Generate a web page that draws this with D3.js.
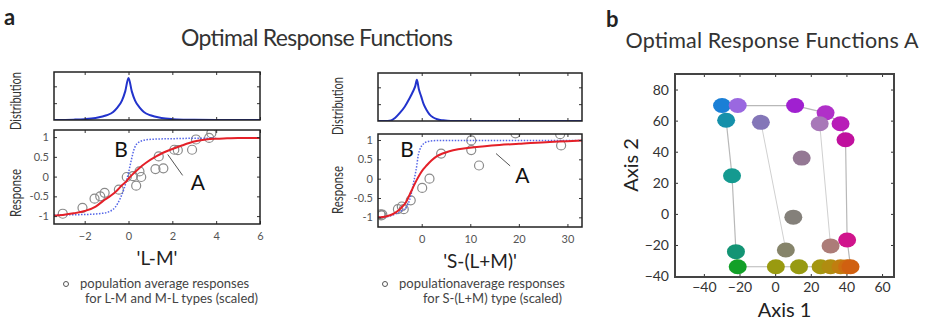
<!DOCTYPE html>
<html>
<head>
<meta charset="utf-8">
<script src="https://cdn.jsdelivr.net/npm/d3@7"></script>
<style>
  body { margin: 0; background: #fff; }
  svg { font-family: Lato, 'Open Sans', sans-serif; }
  .tick text { fill: #555; }
  .tick line { stroke: #333; }
</style>
</head>
<body>
<div id="chart"></div>
<script>
var width = 929, height = 320;

// ---- panel a, left: 'L-M'
var lmDistX = [-3.4, -2.5, -2, -1.5, -1, -0.7, -0.5, -0.3, -0.15, 0, 0.15, 0.3, 0.5, 0.7, 1, 1.5, 2, 2.5, 3, 4, 6];
var lmDistY = [0, 0.02, 0.05, 0.12, 0.28, 0.48, 0.75, 1.15, 1.7, 2.5, 1.7, 1.15, 0.75, 0.48, 0.28, 0.12, 0.05, 0.02, 0.01, 0, 0];
var lmAX = [-3.4, -3, -2.5, -2, -1.5, -1.17, -0.8, -0.56, -0.3, -0.1, 0, 0.25, 0.5, 0.8, 1.26, 1.6, 2, 2.4, 2.77, 3.1, 3.53, 4, 4.5, 5, 6];
var lmAY = [-0.99, -0.97, -0.93, -0.87, -0.76, -0.62, -0.48, -0.37, -0.22, -0.12, -0.05, 0.09, 0.22, 0.35, 0.51, 0.61, 0.7, 0.78, 0.85, 0.9, 0.94, 0.96, 0.97, 0.98, 0.98];
var lmBX = [-3.4, -2, -1.2, -0.85, -0.6, -0.4, -0.2, 0, 0.1, 0.27, 0.5, 0.8, 1.26, 2, 3, 4];
var lmBY = [-0.97, -0.96, -0.93, -0.88, -0.77, -0.58, -0.3, 0.1, 0.35, 0.72, 0.88, 0.93, 0.95, 0.96, 0.97, 0.97];
var lmPtsX = [-3.0, -2.1, -1.55, -1.29, -1.09, -0.44, -0.08, 0.2, 0.5, 0.58, 0.35, 1.23, 1.59, 1.38, 2.09, 2.25, 2.9, 3.08, 3.68, 3.78];
var lmPtsY = [-0.94, -0.79, -0.56, -0.5, -0.41, -0.33, -0.01, 0.01, 0.13, -0.01, -0.23, 0.19, 0.21, 0.51, 0.68, 0.67, 0.68, 0.94, 0.98, 1.1];
var lmXTicks = [-2, 0, 2, 4, 6];

// ---- panel a, right: 'S-(L+M)'
var slmDistX = [-9, -7, -6.3, -5.5, -4.5, -3.5, -2.5, -1.8, -1.3, -1.0, -0.6, -0.1, 0.4, 1, 1.6, 2.3, 3.2, 4.4, 6, 33];
var slmDistY = [0, 0, 0.03, 0.18, 0.48, 0.85, 1.35, 1.75, 2.1, 2.45, 1.9, 1.45, 1.0, 0.66, 0.4, 0.22, 0.1, 0.04, 0, 0];
var slmAX = [-9, -8, -7.2, -6, -4.5, -3.8, -3.1, -2.5, -1.8, -1.1, -0.4, 0.3, 1, 2, 3, 4.3, 5.7, 7.5, 9.9, 13, 16, 20, 26.3, 30, 33];
var slmAY = [-1.0, -0.99, -0.97, -0.92, -0.79, -0.7, -0.58, -0.42, -0.23, -0.05, 0.11, 0.24, 0.34, 0.47, 0.57, 0.65, 0.71, 0.76, 0.8, 0.84, 0.87, 0.9, 0.95, 0.97, 0.99];
var slmBX = [-9, -7, -5.2, -4, -3.1, -2.5, -2.1, -1.7, -1.4, -1.0, -0.75, -0.3, 0.27, 1, 2.3, 4, 10, 20, 33];
var slmBY = [-1.0, -0.98, -0.9, -0.82, -0.72, -0.55, -0.36, -0.12, 0.07, 0.35, 0.58, 0.78, 0.89, 0.95, 0.98, 0.99, 0.99, 0.99, 0.99];
var slmPtsX = [-8.5, -8.3, -8.1, -4.9, -4.1, -3.7, -2.26, 0.1, 1.6, 4.0, 10.2, 10.2, 11.8, 19.3, 28.5, 28.7];
var slmPtsY = [-0.92, -0.95, -0.93, -0.79, -0.72, -0.79, -0.56, -0.24, 0.0, 0.65, 0.99, 0.74, 0.34, 1.17, 1.15, 0.86];
var slmXTicks = [0, 10, 20, 30];

var respTicks = [-1, -0.5, 0, 0.5, 1];
var respTickLabels = ['-1', '-0.5', '0', '0.5', '1'];
var distTicks = [1, 2];

// ---- panel b
var dotX = [-29.8, -21, -27.5, -8, 11.2, 28.3, 25, 36.7, 39.5, 14.9, -24.2, 10.2, 40.4, 31.1, 6, -22, -21, 0.4, 13.4, 25.5, 31.1, 36.7, 40.4, 42.3];
var dotY = [69.7, 69.7, 60.2, 58.9, 69.7, 65, 58, 58, 47.7, 35.9, 24.5, -2.1, -16.8, -20.6, -23.2, -24.3, -34, -34, -34, -34, -34, -34, -34, -34];
var dotColor = ['#1a7fd6', '#9a68e0', '#1590aa', '#8476b8', '#a020d0', '#b030c8', '#a878b8', '#b81cb8', '#c0109e',
  '#947894', '#149a90', '#84807a', '#d0148c', '#ac7c78', '#86846a', '#139474', '#12a028', '#999a10', '#979a12',
  '#a49610', '#b08c10', '#c07e10', '#cc6e10', '#d06010'];
var loopOrder = [0, 1, 4, 5, 7, 8, 12, 23, 22, 21, 20, 19, 18, 17, 16, 15, 10, 2, 0];
var innerLinks = [[3, 14], [6, 13]];
var bXTicks = [-40, -20, 0, 20, 40, 60];
var bYTicks = [-40, -20, 0, 20, 40, 60, 80];

var svg = d3.select('#chart')
  .append('svg')
  .attr('width', width)
  .attr('height', height);

function zip(xs, ys) {
  return xs.map(function (x, i) { return [x, ys[i]]; });
}

function frame(g, x0, y0, x1, y1) {
  g.append('rect')
    .attr('x', x0).attr('y', y0)
    .attr('width', x1 - x0).attr('height', y1 - y0)
    .attr('fill', 'none')
    .attr('stroke', '#222')
    .attr('stroke-width', 1.5);
}

function drawPanelA(cfg) {
  var g = svg.append('g');
  var x = d3.scaleLinear().domain(cfg.xDomain).range([cfg.left, cfg.right]);
  var yd = d3.scaleLinear().domain([0, 2.85]).range([cfg.distBottom, cfg.distTop]);
  var yr = d3.scaleLinear().domain(cfg.yDomain).range([cfg.respBottom, cfg.respTop]);

  var clipD = 'clipD' + cfg.id, clipR = 'clipR' + cfg.id;
  g.append('clipPath').attr('id', clipD).append('rect')
    .attr('x', cfg.left).attr('y', cfg.distTop)
    .attr('width', cfg.right - cfg.left).attr('height', cfg.distBottom - cfg.distTop);
  g.append('clipPath').attr('id', clipR).append('rect')
    .attr('x', cfg.left).attr('y', cfg.respTop)
    .attr('width', cfg.right - cfg.left).attr('height', cfg.respBottom - cfg.respTop);

  // distribution
  g.append('path')
    .datum(zip(cfg.distX, cfg.distY))
    .attr('clip-path', 'url(#' + clipD + ')')
    .attr('fill', 'none')
    .attr('stroke', '#2233cc')
    .attr('stroke-width', 2)
    .attr('d', d3.line().x(function (d) { return x(d[0]); }).y(function (d) { return yd(d[1]); }).curve(d3.curveMonotoneX));

  var line = d3.line()
    .x(function (d) { return x(d[0]); })
    .y(function (d) { return yr(d[1]); })
    .curve(d3.curveMonotoneX);

  // data points
  g.append('g').attr('clip-path', 'url(#' + clipR + ')')
    .selectAll('circle')
    .data(zip(cfg.ptsX, cfg.ptsY))
    .enter()
    .append('circle')
    .attr('cx', function (d) { return x(d[0]); })
    .attr('cy', function (d) { return yr(d[1]); })
    .attr('r', 4.5)
    .attr('fill', 'none')
    .attr('stroke', '#8a8a8a')
    .attr('stroke-width', 1.2);

  // B (dotted blue)
  g.append('path')
    .datum(zip(cfg.bX, cfg.bY))
    .attr('clip-path', 'url(#' + clipR + ')')
    .attr('fill', 'none')
    .attr('stroke', '#5566e8')
    .attr('stroke-width', 1.5)
    .attr('stroke-dasharray', '1.5,1.5')
    .attr('d', line);

  // A (red)
  g.append('path')
    .datum(zip(cfg.aX, cfg.aY))
    .attr('clip-path', 'url(#' + clipR + ')')
    .attr('fill', 'none')
    .attr('stroke', '#e42028')
    .attr('stroke-width', 2)
    .attr('d', line);

  // annotations
  g.append('line')
    .attr('x1', x(cfg.ptrFrom[0])).attr('y1', yr(cfg.ptrFrom[1]))
    .attr('x2', x(cfg.ptrTo[0])).attr('y2', yr(cfg.ptrTo[1]))
    .attr('stroke', '#555').attr('stroke-width', 1);
  g.append('text')
    .attr('x', x(cfg.labB[0])).attr('y', yr(cfg.labB[1]))
    .attr('text-anchor', 'middle').attr('font-size', 21).attr('fill', '#111')
    .text('B');
  g.append('text')
    .attr('x', x(cfg.labA[0])).attr('y', yr(cfg.labA[1]))
    .attr('text-anchor', 'middle').attr('font-size', 21).attr('fill', '#111')
    .text('A');

  // axes: inward ticks, MATLAB style
  var axB = g.append('g').attr('transform', 'translate(0,' + cfg.respBottom + ')')
    .call(d3.axisBottom(x).tickValues(cfg.xTicks).tickSize(-3).tickSizeOuter(0).tickPadding(8));
  var axL = g.append('g').attr('transform', 'translate(' + cfg.left + ',0)')
    .call(d3.axisLeft(yr).tickValues(respTicks).tickFormat(function (d, i) { return respTickLabels[i]; })
      .tickSize(-3).tickSizeOuter(0).tickPadding(5));
  var axR = g.append('g').attr('transform', 'translate(' + cfg.right + ',0)')
    .call(d3.axisRight(yr).tickValues(respTicks).tickFormat('').tickSize(-3).tickSizeOuter(0));
  var axT = g.append('g').attr('transform', 'translate(0,' + cfg.respTop + ')')
    .call(d3.axisTop(x).tickValues(cfg.xTicks).tickFormat('').tickSize(-3).tickSizeOuter(0));
  var dxT = g.append('g').attr('transform', 'translate(0,' + cfg.distTop + ')')
    .call(d3.axisTop(x).tickValues(cfg.xTicks).tickFormat('').tickSize(-3).tickSizeOuter(0));
  var dxB = g.append('g').attr('transform', 'translate(0,' + cfg.distBottom + ')')
    .call(d3.axisBottom(x).tickValues(cfg.xTicks).tickFormat('').tickSize(-3).tickSizeOuter(0));
  var dyL = g.append('g').attr('transform', 'translate(' + cfg.left + ',0)')
    .call(d3.axisLeft(yd).tickValues(distTicks).tickFormat('').tickSize(-3).tickSizeOuter(0));
  var dyR = g.append('g').attr('transform', 'translate(' + cfg.right + ',0)')
    .call(d3.axisRight(yd).tickValues(distTicks).tickFormat('').tickSize(-3).tickSizeOuter(0));
  [axB, axL, axR, axT, dxT, dxB, dyL, dyR].forEach(function (a) {
    a.select('.domain').remove();
    a.selectAll('text').attr('font-size', 11).attr('font-family', 'Lato, sans-serif');
  });

  frame(g, cfg.left, cfg.distTop, cfg.right, cfg.distBottom);
  frame(g, cfg.left, cfg.respTop, cfg.right, cfg.respBottom);

  // side labels
  var cxLab = cfg.left - cfg.labOff;
  g.append('text')
    .attr('transform', 'translate(' + cxLab + ',' + cfg.distLabY + ') rotate(-90)')
    .attr('text-anchor', 'middle').attr('font-size', 16).attr('fill', '#333')
    .attr('textLength', 58).attr('lengthAdjust', 'spacingAndGlyphs')
    .text('Distribution');
  g.append('text')
    .attr('transform', 'translate(' + cxLab + ',' + cfg.respLabY + ') rotate(-90)')
    .attr('text-anchor', 'middle').attr('font-size', 16).attr('fill', '#333')
    .attr('textLength', 48).attr('lengthAdjust', 'spacingAndGlyphs')
    .text('Response');

  g.append('text')
    .attr('x', (cfg.left + cfg.right) / 2).attr('y', cfg.xLabY)
    .attr('text-anchor', 'middle').attr('font-size', 19).attr('fill', '#222')
    .text(cfg.xLabel);

  // legend
  g.append('circle')
    .attr('cx', cfg.legX).attr('cy', 284).attr('r', 2.5)
    .attr('fill', 'none').attr('stroke', '#555').attr('stroke-width', 1);
  g.append('text')
    .attr('x', cfg.legX + 14).attr('y', 288)
    .attr('font-size', 13).attr('fill', '#444')
    .text(cfg.leg1);
  g.append('text')
    .attr('x', cfg.legX + cfg.leg2dx).attr('y', 303)
    .attr('font-size', 13).attr('fill', '#444')
    .text(cfg.leg2);
}

drawPanelA({
  id: 1, left: 54, right: 260, distTop: 72, distBottom: 120, respTop: 130, respBottom: 224,
  xDomain: [-3.4, 6], yDomain: [-1.2, 1.18],
  distX: lmDistX, distY: lmDistY, aX: lmAX, aY: lmAY, bX: lmBX, bY: lmBY, ptsX: lmPtsX, ptsY: lmPtsY,
  xTicks: lmXTicks,
  labB: [-0.34, 0.5], labA: [3.16, -0.33], ptrFrom: [2.47, 0.03], ptrTo: [1.79, 0.56],
  labOff: 33, distLabY: 101, respLabY: 193, xLabY: 265, xLabel: "'L-M'",
  legX: 66, leg2dx: 19, leg1: 'population average responses', leg2: 'for L-M and M-L types (scaled)'
});

drawPanelA({
  id: 2, left: 378, right: 582, distTop: 73, distBottom: 121, respTop: 134, respBottom: 227,
  xDomain: [-9, 33], yDomain: [-1.25, 1.155],
  distX: slmDistX, distY: slmDistY, aX: slmAX, aY: slmAY, bX: slmBX, bY: slmBY, ptsX: slmPtsX, ptsY: slmPtsY,
  xTicks: slmXTicks,
  labB: [-3.0, 0.55], labA: [20.7, -0.1], ptrFrom: [18.2, 0.33], ptrTo: [15.3, 0.65],
  labOff: 35, distLabY: 106, respLabY: 190, xLabY: 268, xLabel: "'S-(L+M)'",
  legX: 385, leg2dx: 38, leg1: 'populationaverage responses', leg2: 'for S-(L+M) type (scaled)'
});

// ---- panel b
var bLeft = 675, bRight = 894, bTop = 74, bBottom = 277;
var xB = d3.scaleLinear().domain([-56.2, 66.7]).range([bLeft, bRight]);
var yB = d3.scaleLinear().domain([-40.6, 90]).range([bBottom, bTop]);
var gb = svg.append('g');

gb.append('path')
  .datum(loopOrder)
  .attr('fill', 'none')
  .attr('stroke', '#b8b8b8')
  .attr('stroke-width', 1.2)
  .attr('d', d3.line()
    .x(function (i) { return xB(dotX[i]); })
    .y(function (i) { return yB(dotY[i]); }));

gb.selectAll('.inner')
  .data(innerLinks)
  .enter()
  .append('line')
  .attr('class', 'inner')
  .attr('x1', function (d) { return xB(dotX[d[0]]); })
  .attr('y1', function (d) { return yB(dotY[d[0]]); })
  .attr('x2', function (d) { return xB(dotX[d[1]]); })
  .attr('y2', function (d) { return yB(dotY[d[1]]); })
  .attr('stroke', '#d0d0d0')
  .attr('stroke-width', 1);

gb.selectAll('.dot')
  .data(dotX)
  .enter()
  .append('ellipse')
  .attr('class', 'dot')
  .attr('cx', function (d) { return xB(d); })
  .attr('cy', function (d, i) { return yB(dotY[i]); })
  .attr('rx', 9)
  .attr('ry', 7.5)
  .attr('fill', function (d, i) { return dotColor[i]; });

var bxAx = gb.append('g').attr('transform', 'translate(0,' + bBottom + ')')
  .call(d3.axisBottom(xB).tickValues(bXTicks).tickSize(-3).tickSizeOuter(0).tickPadding(5));
var byAx = gb.append('g').attr('transform', 'translate(' + bLeft + ',0)')
  .call(d3.axisLeft(yB).tickValues(bYTicks).tickSize(-3).tickSizeOuter(0).tickPadding(6));
var btAx = gb.append('g').attr('transform', 'translate(0,' + bTop + ')')
  .call(d3.axisTop(xB).tickValues(bXTicks).tickFormat('').tickSize(-3).tickSizeOuter(0));
var brAx = gb.append('g').attr('transform', 'translate(' + bRight + ',0)')
  .call(d3.axisRight(yB).tickValues(bYTicks).tickFormat('').tickSize(-3).tickSizeOuter(0));
[bxAx, byAx, btAx, brAx].forEach(function (a) {
  a.select('.domain').remove();
  a.selectAll('text').attr('font-size', 14).attr('font-family', 'Lato, sans-serif').style('fill', '#333');
});
gb.append('rect')
  .attr('x', bLeft).attr('y', bTop)
  .attr('width', bRight - bLeft).attr('height', bBottom - bTop)
  .attr('fill', 'none').attr('stroke', '#444').attr('stroke-width', 2);

gb.append('text')
  .attr('x', (bLeft + bRight) / 2).attr('y', 317)
  .attr('text-anchor', 'middle').attr('font-size', 20).attr('fill', '#222')
  .text('Axis 1');
gb.append('text')
  .attr('transform', 'translate(638,165) rotate(-90)')
  .attr('text-anchor', 'middle').attr('font-size', 20).attr('fill', '#222')
  .text('Axis 2');

// titles and panel letters
svg.append('text')
  .attr('x', 317).attr('y', 46)
  .attr('text-anchor', 'middle').attr('font-size', 23).attr('fill', '#333')
  .attr('textLength', 272).attr('lengthAdjust', 'spacing')
  .text('Optimal Response Functions');
svg.append('text')
  .attr('x', 772).attr('y', 48)
  .attr('text-anchor', 'middle').attr('font-size', 21.5).attr('fill', '#333')
  .attr('textLength', 293).attr('lengthAdjust', 'spacing')
  .text('Optimal Response Functions A');
svg.append('text')
  .attr('x', 4).attr('y', 25)
  .attr('font-size', 22).attr('font-weight', 'bold').attr('fill', '#222')
  .text('a');
svg.append('text')
  .attr('x', 606).attr('y', 27)
  .attr('font-size', 22).attr('font-weight', 'bold').attr('fill', '#222')
  .text('b');
</script>
</body>
</html>
